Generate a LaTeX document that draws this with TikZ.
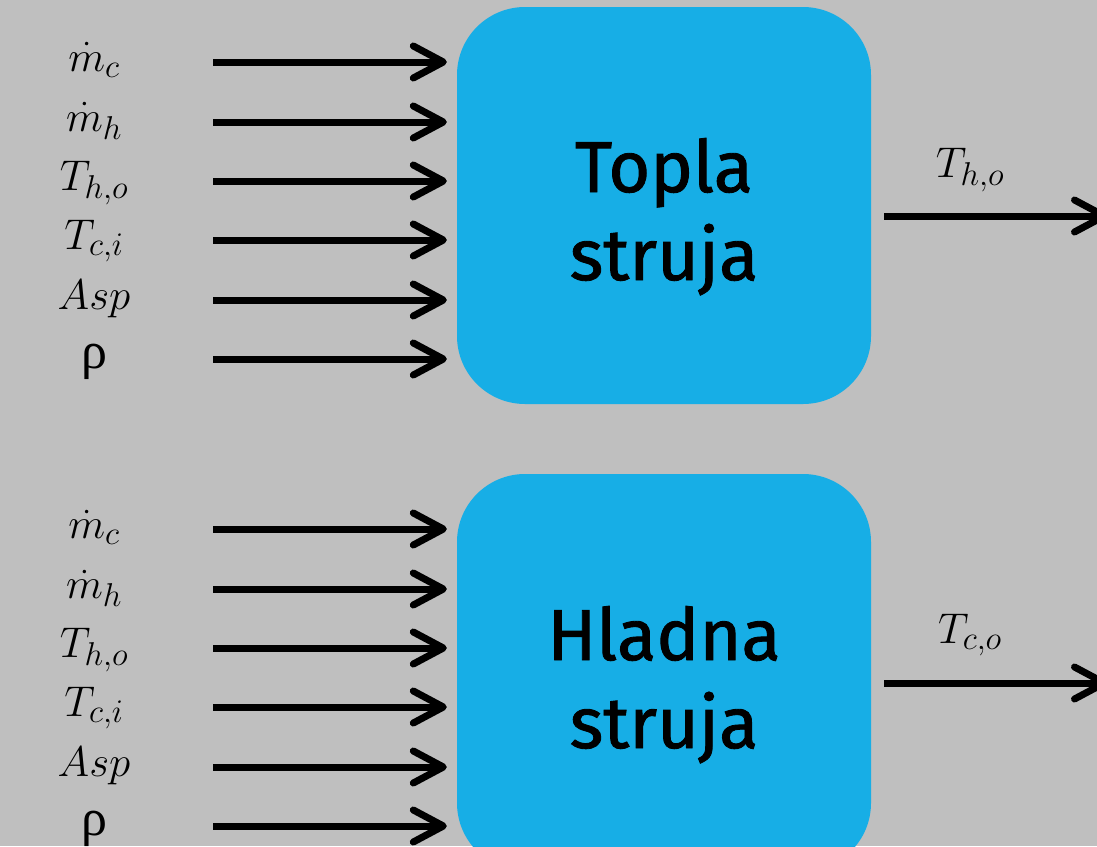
\RequirePackage{fix-cm}
\documentclass[tikz,border=0pt]{standalone}
\usepackage{fontspec}
\setsansfont{Fira Sans}[FakeBold=1.2]
\newfontfamily\rhofont{Liberation Serif}
\DeclareMathSizes{43}{43}{33}{25}
\usetikzlibrary{arrows.meta}
\definecolor{bg}{HTML}{BFBFBF}
\definecolor{boxblue}{HTML}{17AEE6}
\newcommand{\rhotext}{{\rhofont\fontsize{52}{52}\selectfont ρ}}
\tikzset{
  blk/.style={fill=boxblue, draw=none, rounded corners=68pt, minimum width=414pt, minimum height=397pt, inner sep=0pt},
  blktext/.style={font=\sffamily\fontsize{72}{88}\selectfont, align=center, text=black},
  lab/.style={anchor=base, inner sep=0pt, font=\fontsize{43}{43}\selectfont},
  tipstyle/.style={-{Straight Barb[length=30pt, width=32pt, line width=7pt, line cap=round, line join=round]}},
  arr/.style={line width=7pt, tipstyle}
}
\begin{document}
\begin{tikzpicture}[x=1pt, y=-1pt]
\clip (0,0) rectangle (1097,846);
\fill[bg] (0,0) rectangle (1097,846);
% boxes
\node[blk] (top) at (664,205.5) {};
\node[blktext, anchor=base] (toptxt) at (664,192) {Topla};
\node[blktext, anchor=base] (toptxt2) at (664,280) {struja};
\node[blk] (bot) at (664,672.5) {};
\node[blktext, anchor=base] (bottxt) at (664,660) {Hladna};
\node[blktext, anchor=base] (bottxt2) at (664,748) {struja};
% top inputs
\foreach \y/\t [count=\i] in {62/{$\dot m_c$},122/{$\dot m_h$},181/{$T_{h,o}$},240/{$T_{c,i}$},300/{$Asp$},359/{\rhotext}}{
  \node[lab] (tl\i) at (94,\y+9) {\t};
  \coordinate (ts\i) at (213,\y);
  \draw[arr] (ts\i) -- ([xshift=-10pt]top.west |- ts\i);
}
% bottom inputs
\foreach \y/\t [count=\i] in {529/{$\dot m_c$},589/{$\dot m_h$},648/{$T_{h,o}$},707/{$T_{c,i}$},767/{$Asp$},826/{\rhotext}}{
  \node[lab] (bl\i) at (94,\y+9) {\t};
  \coordinate (bs\i) at (213,\y);
  \draw[arr] (bs\i) -- ([xshift=-10pt]bot.west |- bs\i);
}
% outputs
\coordinate (to) at (1108,216);
\draw[arr] ([xshift=13pt]top.east |- to) -- (to);
\node[lab] (thl) at (970,177) {$T_{h,o}$};
\coordinate (bo) at (1108,683);
\draw[arr] ([xshift=13pt]bot.east |- bo) -- (bo);
\node[lab] (tcl) at (970,643) {$T_{c,o}$};
\end{tikzpicture}
\end{document}
